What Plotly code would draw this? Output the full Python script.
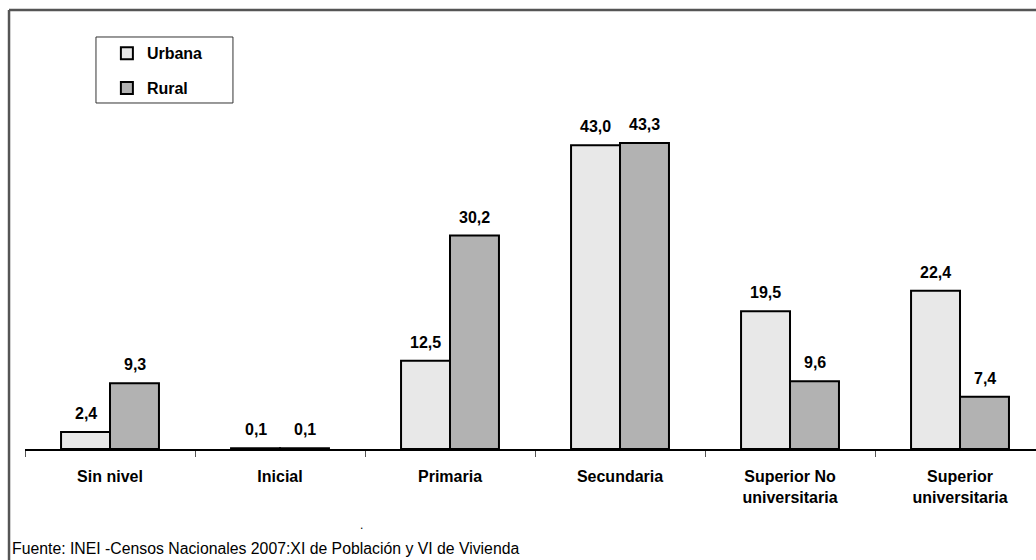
import plotly.graph_objects as go

niveles = ["Sin nivel", "Inicial", "Primaria", "Secundaria",
           "Superior No<br>universitaria", "Superior<br>universitaria"]
urbana = [2.4, 0.1, 12.5, 43.0, 19.5, 22.4]
rural = [9.3, 0.1, 30.2, 43.3, 9.6, 7.4]

fuente = "Fuente: INEI -Censos Nacionales 2007:XI de Población y VI de Vivienda"
FONT = "Liberation Sans Narrow, Arial Narrow, Liberation Sans, Arial, sans-serif"

fig = go.Figure()
fig.add_trace(go.Bar(x=niveles, y=urbana, name="Urbana", legendgroup="u",
                     marker=dict(color="#e8e8e8", line=dict(color="black", width=2))))
fig.add_trace(go.Bar(x=niveles, y=rural, name="Rural", legendgroup="r",
                     marker=dict(color="#b2b2b2", line=dict(color="black", width=2))))

# etiquetas de valores
for serie, shift in ((urbana, -24.5), (rural, 24.5)):
    for cat, v in zip(niveles, serie):
        fig.add_annotation(x=cat, y=v, xshift=shift, yshift=8, yanchor="bottom",
                           text=f"{v:.1f}".replace(".", ","), showarrow=False,
                           font=dict(family=FONT, size=16, color="black", weight="bold"))

fig.add_annotation(x=(10 - 25) / 1011, y=(449 - 548) / 419, xref="paper", yref="paper",
                   xanchor="left", yanchor="middle", text=fuente, showarrow=False,
                   font=dict(family=FONT, size=15.8, color="black"))
fig.add_annotation(xref="paper", yref="paper", x=(358 - 25) / 1011, y=(449 - 534) / 419,
                   text=".", showarrow=False, font=dict(family=FONT, size=12, color="black"))

# marco exterior (izquierda y arriba)
fig.add_shape(type="line", xref="paper", yref="paper", x0=-0.0158, x1=-0.0158,
              y0=1.0477, y1=-0.3, line=dict(color="#555555", width=2.5))
fig.add_shape(type="line", xref="paper", yref="paper", x0=-0.0158, x1=1.02,
              y0=1.0477, y1=1.0477, line=dict(color="#555555", width=2.5))
# caja de leyenda
fig.add_shape(type="rect", xref="paper", yref="paper", x0=0.0702, x1=0.2057,
              y0=0.8258, y1=0.9833, line=dict(color="#333333", width=1))

fig.update_layout(
    width=1036, height=560,
    margin=dict(l=25, r=0, t=30, b=111),
    paper_bgcolor="white", plot_bgcolor="white",
    barmode="group", bargap=0.424, bargroupgap=0,
    font=dict(family=FONT, size=16, color="black"),
    legend=dict(x=0.081, y=0.985, xanchor="left", yanchor="top",
                bgcolor="rgba(0,0,0,0)", borderwidth=0,
                traceorder="grouped", tracegroupgap=11,
                font=dict(family=FONT, size=16, color="black", weight="bold")),
    xaxis=dict(range=[-0.5, 5.447], showline=True, linecolor="black", linewidth=1.5,
               ticks="outside", tickson="boundaries", ticklen=6, tickcolor="#555555",
               tickfont=dict(family=FONT, size=16, color="black", weight="bold"),
               ticklabelstandoff=12, showgrid=False),
    yaxis=dict(range=[0, 59.3], visible=False, showgrid=False, zeroline=False),
)

fig.write_html("out.html", config={"displayModeBar": False},
               post_script="document.body.style.margin='0';")
